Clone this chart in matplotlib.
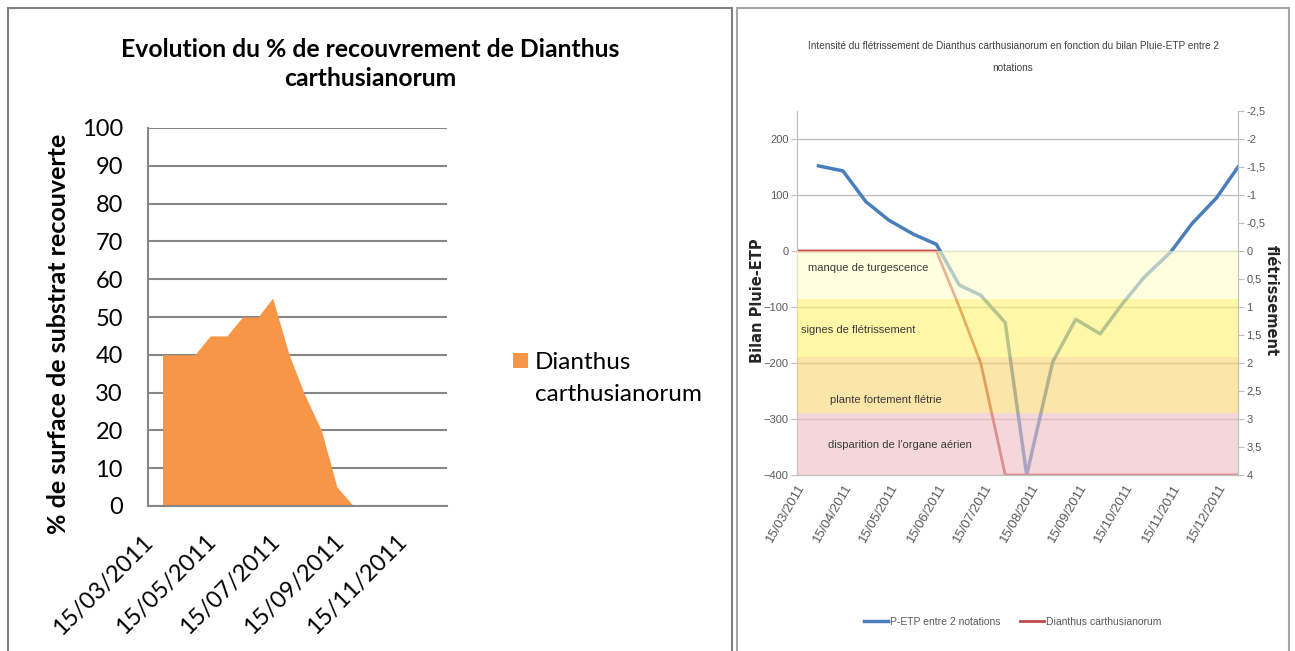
import matplotlib
matplotlib.use('Agg')
import matplotlib.pyplot as plt
import matplotlib.transforms as mtransforms
import numpy as np
import pandas as pd
from matplotlib.patches import Patch, Rectangle
from matplotlib.ticker import FuncFormatter

plt.rcParams['font.family'] = ['Lato', 'DejaVu Sans']
NARROW = ['Liberation Sans Narrow', 'Liberation Sans', 'DejaVu Sans']

W, H = 1295, 651

# notation dates (shared by both charts)
dates = pd.to_datetime([
    '2011-03-15', '2011-03-29', '2011-04-14', '2011-04-29', '2011-05-14',
    '2011-05-30', '2011-06-14', '2011-06-29', '2011-07-13', '2011-07-29',
    '2011-08-12', '2011-08-29', '2011-09-13', '2011-09-29', '2011-10-13',
    '2011-10-28', '2011-11-14', '2011-11-28', '2011-12-14', '2011-12-28'])

# % cover of Dianthus carthusianorum
cover = [np.nan, 40, 40, 40, 45, 45, 50, 50, 55, 40, 30, 20, 5, 0,
         np.nan, np.nan, np.nan, np.nan, np.nan, np.nan]
# rain - ETP balance between two notations
p_etp = [np.nan, 152, 143, 88, 55, 30, 12, -61, -79, -128, -400, -198,
         -122, -148, -96, -46, -2, 49, 95, 150]
# wilting intensity
fletri = [0, 0, 0, 0, 0, 0, 0, 1, 2, 4, 4, 4, 4, 4, 4, 4, 4, 4, 4, 4]

left_ticks = pd.to_datetime(['2011-03-15', '2011-05-15', '2011-07-15',
                             '2011-09-15', '2011-11-15'])
right_ticks = pd.to_datetime(['2011-03-15', '2011-04-15', '2011-05-15',
                              '2011-06-15', '2011-07-15', '2011-08-15',
                              '2011-09-15', '2011-10-15', '2011-11-15',
                              '2011-12-15'])

# wilting classes (bilan Pluie-ETP thresholds)
band_top = [0, -85, -190, -290]
band_bottom = [-85, -190, -290, -400]
band_labels = ['manque de turgescence', 'signes de flétrissement',
               'plante fortement flétrie', "disparition de l'organe aérien"]
band_colors = ['#FFFFCB', '#FFF36E', '#FAD46E', '#EEBEC1']
band_label_x = [0.025, 0.009, 0.075, 0.07]
band_label_y = [-30, -141, -266, -346]

xmin, xmax = pd.Timestamp('2011-03-15'), pd.Timestamp('2011-12-28')


def box(x0, y0, x1, y1):
    return [x0 / W, 1 - y1 / H, (x1 - x0) / W, (y1 - y0) / H]


fig = plt.figure(figsize=(W / 100, H / 100), dpi=100)

# frames
fig.add_artist(Rectangle((8 / W, -0.05), (732 - 8) / W, 1.05 - 8 / H,
                         transform=fig.transFigure, fill=False,
                         ec='#808080', lw=1.5))
fig.add_artist(Rectangle((737 / W, -0.05), (1289 - 737) / W, 1.05 - 8 / H,
                         transform=fig.transFigure, fill=False,
                         ec='#a6a6a6', lw=1.5))

# ---------------- left chart ----------------
ax1 = fig.add_axes(box(148, 128, 447, 506))
ax1.fill_between(dates, cover, 0, color='#F79646', lw=0, zorder=2)
ax1.set_ylim(0, 100)
ax1.set_yticks(range(0, 101, 10))
ax1.set_xlim(xmin, xmax)
ax1.set_xticks(left_ticks)
ax1.set_xticklabels([d.strftime('%d/%m/%Y') for d in left_ticks],
                    rotation=45, ha='right', rotation_mode='anchor')
ax1.grid(axis='y', color='#868686', lw=1.5)
ax1.set_axisbelow(True)
for s in ['top', 'right']:
    ax1.spines[s].set_visible(False)
for s in ['left', 'bottom']:
    ax1.spines[s].set_color('#868686')
    ax1.spines[s].set_linewidth(1.5)
ax1.tick_params(labelsize=17, length=0)
ax1.tick_params(axis='y', pad=18)
ax1.tick_params(axis='x', pad=18)
shift = mtransforms.ScaledTranslation(-0.06, 0, fig.dpi_scale_trans)
for t in ax1.get_xticklabels():
    t.set_transform(t.get_transform() + shift)

fig.text(370 / W, 1 - 64 / H,
         'Evolution du % de recouvrement de Dianthus\ncarthusianorum',
         ha='center', va='center', fontsize=17.8, fontweight='bold',
         linespacing=1.3)
fig.text(59 / W, 1 - 334 / H, '% de surface de substrat recouverte',
         rotation=90, ha='center', va='center', fontsize=18,
         fontweight='bold')

ax1.legend(handles=[Patch(facecolor='#F79646'), Patch(fc='none', ec='none')],
           labels=['Dianthus', 'carthusianorum'], loc='upper left',
           bbox_to_anchor=(513 / W, 1 - 352 / H),
           bbox_transform=fig.transFigure, frameon=False, fontsize=17.5,
           handlelength=0.6, handleheight=0.6, handletextpad=0.3,
           labelspacing=0.45, borderaxespad=0, borderpad=0)

# ---------------- right chart ----------------
ax2 = fig.add_axes(box(797, 111, 1238, 475))
ax2.set_ylim(-400, 250)
ax2.set_yticks(range(-400, 201, 100))
ax2.set_xlim(xmin, xmax)
ax2.grid(axis='y', color='#bfbfbf', lw=1)
ax2.set_axisbelow(True)
l1, = ax2.plot(dates, p_etp, color='#4A7EBB', lw=2.5, zorder=2,
               label='P-ETP entre 2 notations')

ax3 = ax2.twinx()
ax3.set_ylim(4, -2.5)
ax3.set_yticks(np.arange(-2.5, 4.01, 0.5))
ax3.yaxis.set_major_formatter(
    FuncFormatter(lambda v, p: '0' if abs(v) < 1e-9
                  else f'{v:g}'.replace('.', ',')))
l2, = ax3.plot(dates, fletri, color='#BE4B48', lw=2, zorder=2,
               label='Dianthus carthusianorum')

tr = ax2.get_yaxis_transform()
for top, bot, c in zip(band_top, band_bottom, band_colors):
    ax3.add_patch(Rectangle((0, bot), 1, top - bot, transform=tr, fc=c,
                            ec='none', alpha=0.6, zorder=3))
for lab, x, y in zip(band_labels, band_label_x, band_label_y):
    ax3.text(x, y, lab, transform=tr, ha='left', va='center', fontsize=8,
             family=NARROW, color='#3a3a3a', zorder=4)

ax2.set_xticks(right_ticks)
ax2.set_xticklabels([d.strftime('%d/%m/%Y') for d in right_ticks],
                    rotation=60, ha='right', rotation_mode='anchor',
                    family=NARROW, fontsize=9.5)
for ax in (ax2, ax3):
    for s in ax.spines.values():
        s.set_color('#bfbfbf')
    ax.spines['top'].set_visible(False)
    ax.tick_params(axis='y', labelsize=8, labelcolor='#595959',
                   color='#bfbfbf', length=4, pad=2)
    for t in ax.get_yticklabels():
        t.set_family(NARROW)
ax2.tick_params(axis='x', length=0, pad=5, labelcolor='#595959')

fig.text(1013 / W, 1 - 57 / H,
         'Intensité du flétrissement de Dianthus carthusianorum en fonction '
         'du bilan Pluie-ETP entre 2\nnotations',
         ha='center', va='center', fontsize=7.2, family=NARROW,
         color='#404040', linespacing=2.5)
fig.text(757 / W, 1 - 301 / H, 'Bilan Pluie-ETP', rotation=90, ha='center',
         va='center', fontsize=10.5, fontweight='bold', family='DejaVu Sans',
         color='#262626')
fig.text(1271 / W, 1 - 301 / H, 'flétrissement', rotation=270, ha='center',
         va='center', fontsize=10.5, fontweight='bold', family='DejaVu Sans',
         color='#262626')

fig.legend(handles=[l1, l2], loc='center',
           bbox_to_anchor=(1013 / W, 1 - 622 / H), ncol=2, frameon=False,
           prop={'family': NARROW, 'size': 7.5}, labelcolor='#595959',
           handlelength=2.3, handletextpad=0.2, columnspacing=1.9)

fig.savefig('out.png', dpi=100)
